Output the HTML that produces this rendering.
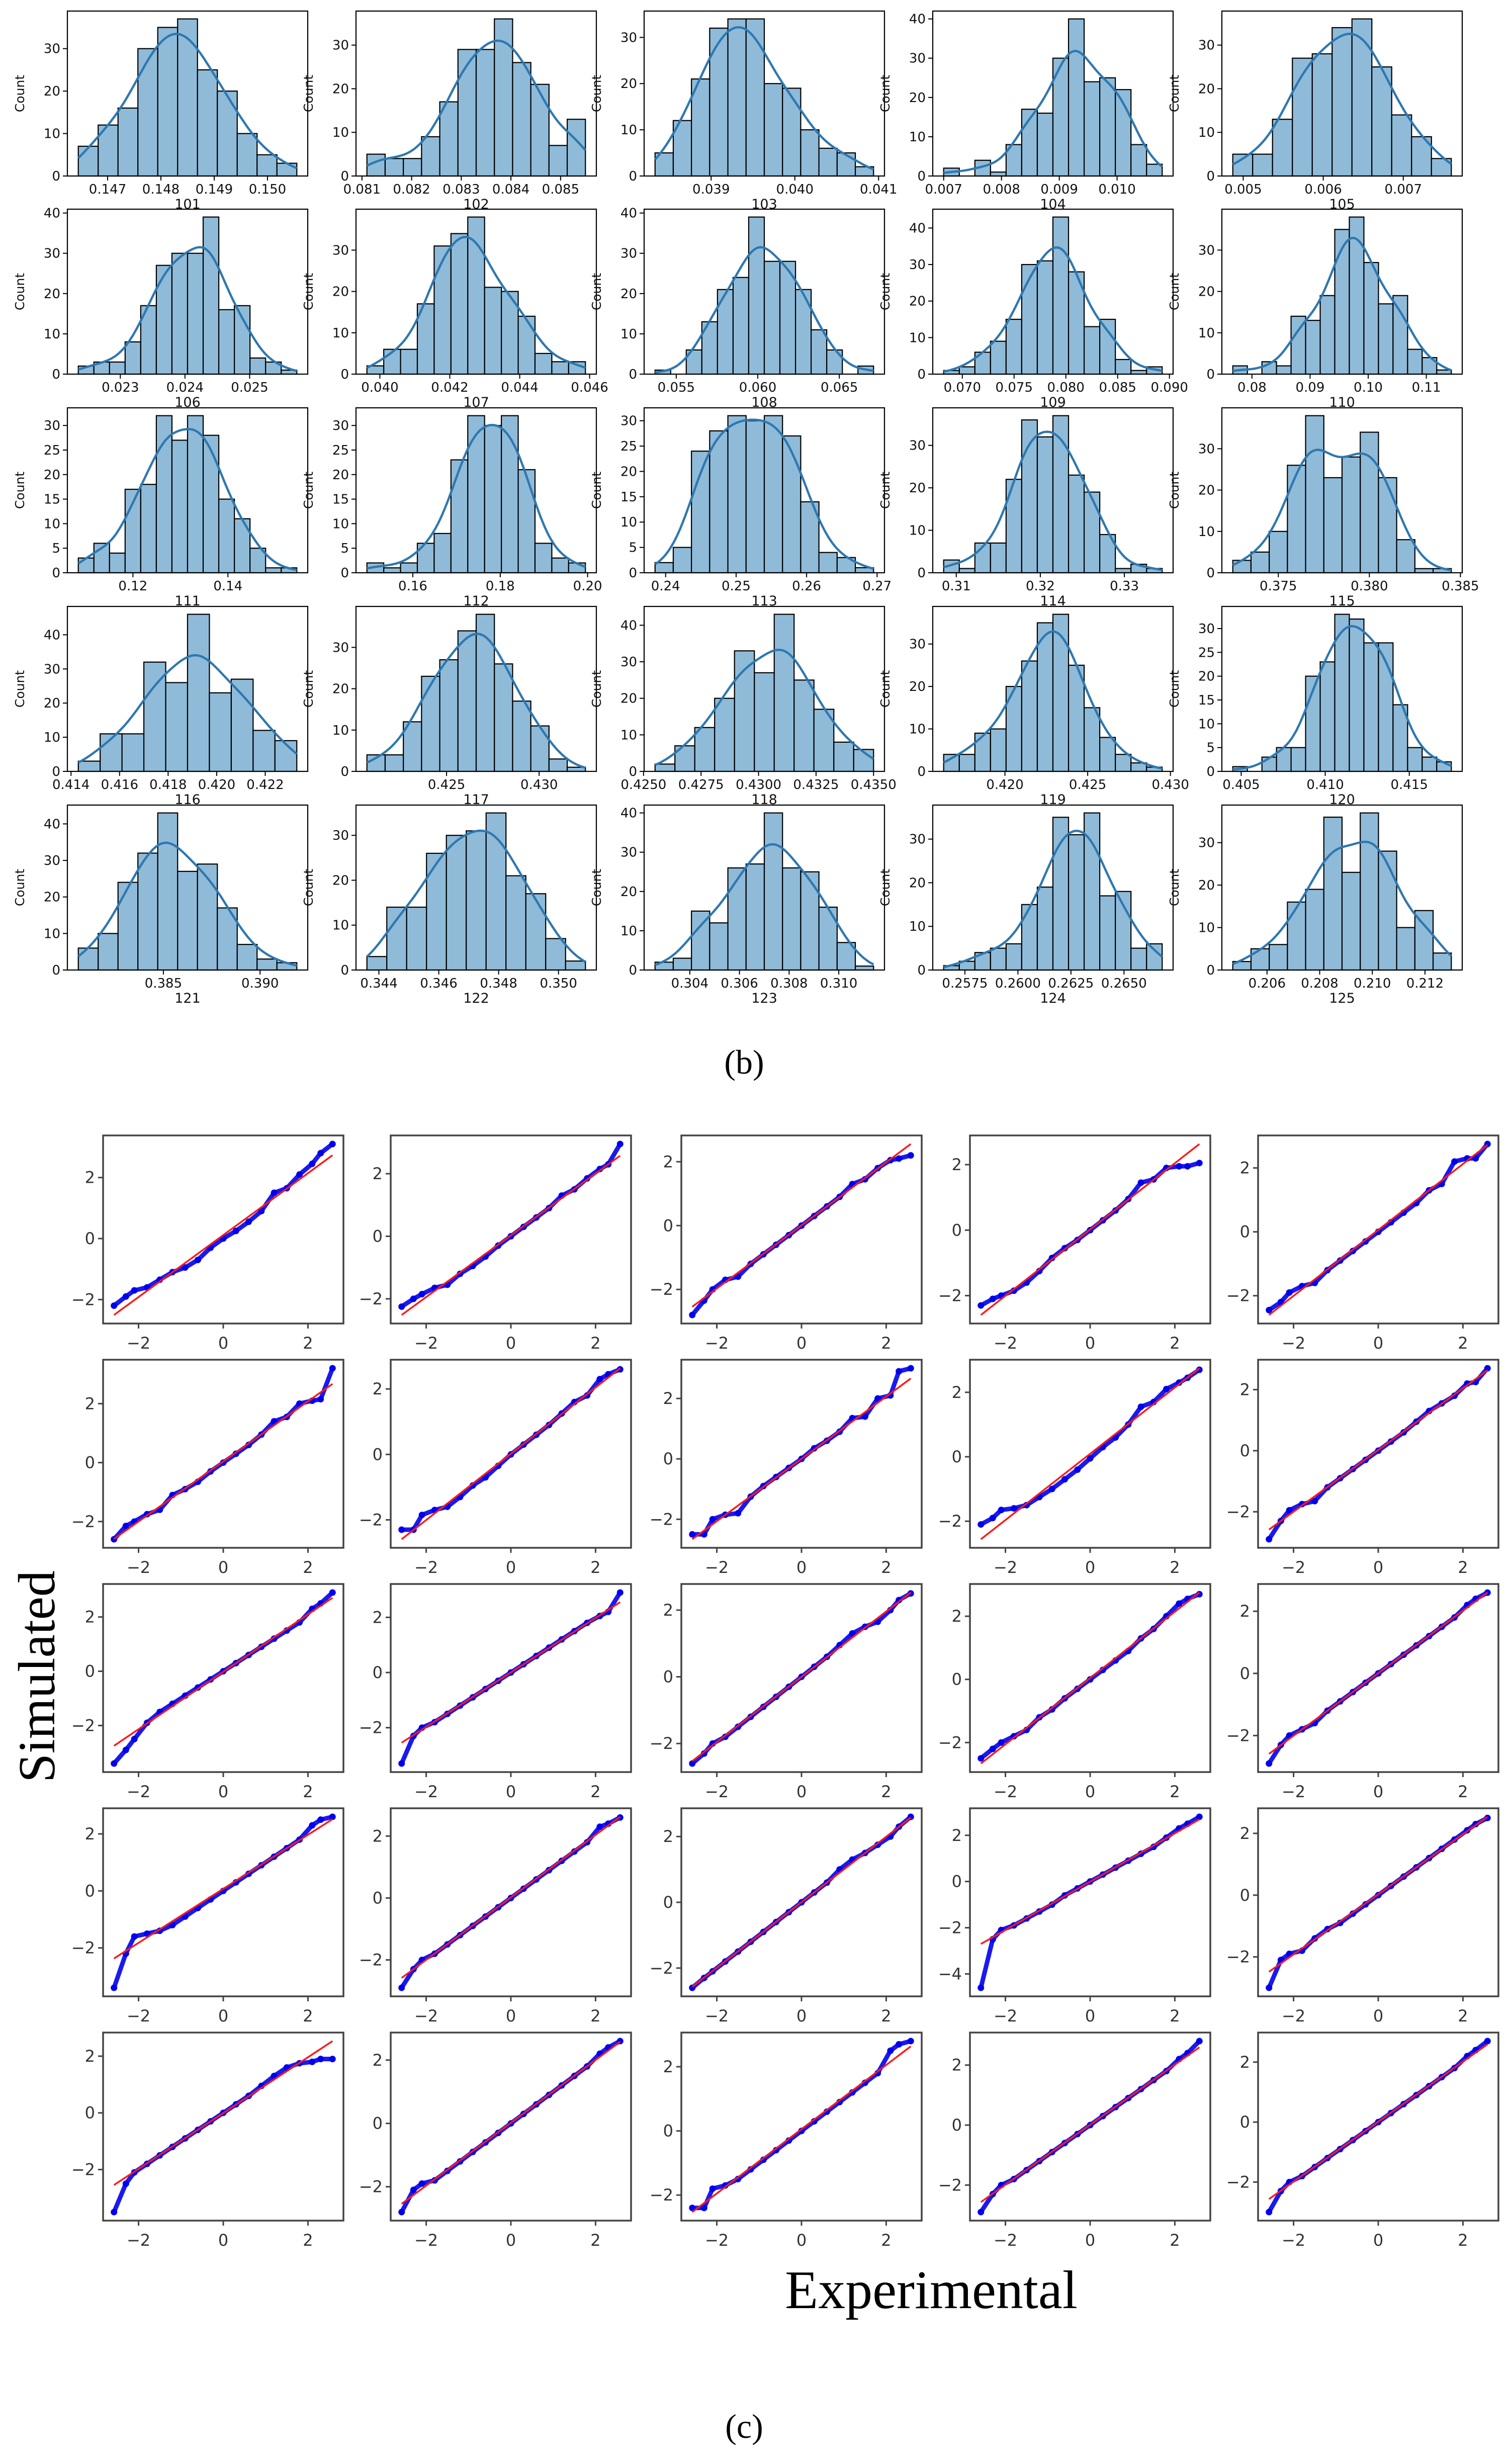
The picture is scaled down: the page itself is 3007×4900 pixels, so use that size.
<!DOCTYPE html>
<html><head><meta charset="utf-8"><style>
html,body{margin:0;padding:0;background:#fff}
svg{display:block}
text{font-family:"DejaVu Sans","Liberation Sans",sans-serif}
.serif{font-family:"Liberation Serif","Times New Roman",serif}
</style></head><body>
<svg id="fig" width="3007" height="4900" viewBox="0 0 3007 4900" xmlns="http://www.w3.org/2000/svg">
<rect width="3007" height="4900" fill="#fff"/>
<g id="hist"></g>
<text class="serif" x="1480" y="2135" font-size="68" text-anchor="middle">(b)</text>
<g id="qq"></g>
<text class="serif" transform="translate(108,3334) rotate(-90)" font-size="104" text-anchor="middle">Simulated</text>
<text class="serif" x="1852" y="4590" font-size="108" text-anchor="middle">Experimental</text>
<text class="serif" x="1480" y="4848" font-size="68" text-anchor="middle">(c)</text>
</svg>
<script>
// ---------- Histogram data ----------
const histNames = ['101','102','103','104','105','106','107','108','109','110','111','112','113','114','115','116','117','118','119','120','121','122','123','124','125'];
const histCounts = [
 [7,12,16,30,35,37,25,20,10,5,3],
 [5,4,4,9,17,29,29,36,26,21,7,13],
 [5,12,21,32,34,34,20,19,10,6,5,2],
 [2,0,4,1,8,17,16,30,40,24,25,22,8,3],
 [5,5,13,27,28,34,36,25,14,9,4],
 [2,3,3,8,17,27,30,30,39,16,17,4,3,1],
 [2,6,6,17,31,34,38,21,20,14,5,3,3],
 [1,0,6,13,21,24,39,28,28,21,11,6,0,2],
 [1,2,6,9,15,30,31,43,28,13,15,4,1,2],
 [2,0,3,2,14,13,19,35,38,27,17,19,6,4,1],
 [3,6,4,17,18,32,27,32,28,15,11,5,1,1],
 [2,1,2,6,8,23,32,30,32,21,6,3,2],
 [2,5,24,28,31,30,31,27,14,4,3,1],
 [3,1,7,7,22,36,32,37,23,19,9,1,2,1],
 [3,5,10,26,38,23,28,34,23,8,1,1],
 [3,11,11,32,26,46,23,27,12,9],
 [4,4,12,23,27,34,38,26,17,11,3,1],
 [2,7,12,20,33,27,43,25,17,8,6],
 [4,4,9,10,20,26,35,37,25,15,8,4,2,1],
 [1,0,3,5,5,20,23,33,32,27,27,14,5,3,2],
 [6,10,24,32,43,27,29,17,7,3,2],
 [3,14,14,26,30,31,35,21,17,7,2],
 [2,3,15,12,26,27,40,26,25,16,7,1],
 [1,2,4,5,6,15,19,35,31,36,17,18,5,6],
 [2,5,6,16,19,36,23,37,28,10,14,4]
];
const histRange = [
 [0.14645,0.15055],[0.0811,0.0855],[0.03833,0.04094],[0.00700,0.01078],[0.00487,0.00760],
 [0.02235,0.02573],[0.03963,0.04588],[0.0537,0.0671],[0.0682,0.0893],[0.0767,0.1143],
 [0.1085,0.1545],[0.1495,0.1995],[0.2385,0.2695],[0.3085,0.3345],[0.3725,0.3845],
 [0.4143,0.4233],[0.4207,0.4325],[0.4255,0.4350],[0.4163,0.4295],[0.4045,0.4175],
 [0.3806,0.3919],[0.3436,0.3509],[0.3026,0.3114],[0.2565,0.2668],[0.2047,0.2130]
];
const histXTicks = [
 ['0.147','0.148','0.149','0.150'],['0.081','0.082','0.083','0.084','0.085'],['0.039','0.040','0.041'],['0.007','0.008','0.009','0.010'],['0.005','0.006','0.007'],
 ['0.023','0.024','0.025'],['0.040','0.042','0.044','0.046'],['0.055','0.060','0.065'],['0.070','0.075','0.080','0.085','0.090'],['0.08','0.09','0.10','0.11'],
 ['0.12','0.14'],['0.16','0.18','0.20'],['0.24','0.25','0.26','0.27'],['0.31','0.32','0.33'],['0.375','0.380','0.385'],
 ['0.414','0.416','0.418','0.420','0.422'],['0.425','0.430'],['0.4250','0.4275','0.4300','0.4325','0.4350'],['0.420','0.425','0.430'],['0.405','0.410','0.415'],
 ['0.385','0.390'],['0.344','0.346','0.348','0.350'],['0.304','0.306','0.308','0.310'],['0.2575','0.2600','0.2625','0.2650'],['0.206','0.208','0.210','0.212']
];
const histYStep = [10,10,10,10,10, 10,10,10,10,10, 5,5,5,10,10, 10,10,10,10,5, 10,10,10,10,10];

// ---------- QQ data ----------
const qqX = [-2.58,-2.3,-2.1,-1.8,-1.5,-1.2,-0.9,-0.6,-0.3,0,0.3,0.6,0.9,1.2,1.5,1.8,2.1,2.3,2.58];
const qqY = [
 [-2.2,-1.9,-1.7,-1.6,-1.35,-1.1,-0.95,-0.7,-0.3,0,0.25,0.55,0.9,1.5,1.65,2.1,2.45,2.8,3.1],
 [-2.25,-2.0,-1.85,-1.65,-1.55,-1.2,-0.95,-0.65,-0.3,0,0.3,0.6,0.9,1.3,1.5,1.85,2.15,2.3,2.95],
 [-2.8,-2.35,-2.0,-1.7,-1.6,-1.2,-0.9,-0.6,-0.3,0,0.3,0.6,0.9,1.3,1.45,1.8,2.05,2.1,2.2],
 [-2.3,-2.1,-2.0,-1.85,-1.6,-1.25,-0.85,-0.55,-0.3,0,0.3,0.6,0.95,1.45,1.55,1.9,1.95,1.95,2.05],
 [-2.45,-2.2,-1.9,-1.7,-1.6,-1.2,-0.9,-0.6,-0.3,0,0.3,0.6,0.9,1.3,1.5,2.2,2.3,2.3,2.75],
 [-2.6,-2.15,-2.0,-1.75,-1.6,-1.1,-0.9,-0.65,-0.3,0,0.3,0.6,0.95,1.4,1.55,2.0,2.1,2.15,3.2],
 [-2.3,-2.3,-1.85,-1.7,-1.6,-1.3,-0.95,-0.7,-0.35,0,0.3,0.6,0.9,1.25,1.6,1.8,2.3,2.45,2.6],
 [-2.5,-2.5,-2.0,-1.85,-1.8,-1.25,-0.9,-0.6,-0.3,0,0.35,0.6,0.9,1.35,1.4,2.0,2.1,2.9,3.0],
 [-2.1,-1.9,-1.65,-1.6,-1.5,-1.25,-1.0,-0.7,-0.4,-0.05,0.3,0.6,1.0,1.55,1.7,2.1,2.3,2.45,2.7],
 [-2.9,-2.3,-1.95,-1.75,-1.65,-1.2,-0.9,-0.6,-0.3,0,0.3,0.6,0.95,1.3,1.55,1.8,2.2,2.25,2.7],
 [-3.4,-2.9,-2.5,-1.9,-1.5,-1.2,-0.9,-0.6,-0.3,0,0.3,0.6,0.9,1.2,1.5,1.8,2.3,2.5,2.9],
 [-3.3,-2.3,-2.0,-1.8,-1.5,-1.2,-0.9,-0.6,-0.3,0,0.3,0.6,0.9,1.2,1.5,1.8,2.05,2.2,2.9],
 [-2.6,-2.3,-2.0,-1.8,-1.5,-1.2,-0.9,-0.6,-0.3,0,0.3,0.6,0.95,1.3,1.5,1.65,2.0,2.3,2.5],
 [-2.5,-2.2,-2.0,-1.8,-1.6,-1.2,-0.95,-0.6,-0.3,0,0.3,0.6,0.9,1.3,1.6,2.0,2.4,2.55,2.7],
 [-2.9,-2.3,-2.0,-1.8,-1.6,-1.2,-0.9,-0.6,-0.3,0,0.3,0.6,0.9,1.2,1.5,1.8,2.2,2.4,2.6],
 [-3.4,-2.2,-1.6,-1.5,-1.4,-1.2,-0.9,-0.6,-0.3,0,0.3,0.6,0.9,1.2,1.5,1.8,2.3,2.5,2.6],
 [-2.9,-2.3,-2.0,-1.8,-1.5,-1.2,-0.9,-0.6,-0.3,0,0.3,0.6,0.9,1.2,1.5,1.8,2.3,2.4,2.6],
 [-2.6,-2.3,-2.1,-1.8,-1.5,-1.2,-0.9,-0.6,-0.3,0,0.3,0.6,1.0,1.3,1.5,1.75,2.0,2.3,2.6],
 [-4.6,-2.5,-2.1,-1.9,-1.6,-1.3,-1.0,-0.6,-0.3,0,0.3,0.6,0.9,1.2,1.5,1.9,2.3,2.5,2.8],
 [-3.0,-2.1,-1.9,-1.8,-1.4,-1.1,-0.9,-0.6,-0.3,0,0.3,0.6,0.9,1.2,1.5,1.8,2.1,2.3,2.5],
 [-3.5,-2.5,-2.1,-1.8,-1.5,-1.2,-0.9,-0.6,-0.3,0,0.3,0.6,0.95,1.3,1.6,1.75,1.8,1.9,1.9],
 [-2.8,-2.1,-1.9,-1.8,-1.5,-1.2,-0.9,-0.6,-0.3,0,0.3,0.6,0.9,1.2,1.5,1.8,2.2,2.4,2.6],
 [-2.4,-2.4,-1.8,-1.7,-1.5,-1.2,-0.9,-0.6,-0.3,0,0.3,0.6,0.9,1.2,1.5,1.8,2.5,2.7,2.8],
 [-2.9,-2.3,-2.0,-1.8,-1.5,-1.2,-0.9,-0.6,-0.3,0,0.3,0.6,0.9,1.2,1.5,1.8,2.2,2.4,2.8],
 [-3.0,-2.3,-2.0,-1.8,-1.5,-1.2,-0.9,-0.6,-0.3,0,0.3,0.6,0.9,1.2,1.5,1.8,2.2,2.4,2.7]
];
const qqXTicks = ['\u22122','0','2'];

const NS='http://www.w3.org/2000/svg';
function mk(tag, attrs, parent){const e=document.createElementNS(NS,tag);for(const k in attrs)e.setAttribute(k,attrs[k]);parent.appendChild(e);return e;}

// ---------- Histograms ----------
const H_COL=[134,708,1281,1855,2430], H_ROW=[22,416,811,1206,1601], HW=478, HH=328;
const hg=document.getElementById('hist');
histCounts.forEach((counts,i)=>{
  const ox=H_COL[i%5], oy=H_ROW[Math.floor(i/5)];
  const g=mk('g',{},hg);
  
  
  const [lo,hi]=histRange[i]; const pad=(hi-lo)*0.05;
  const xmin=lo-pad, xmax=hi+pad;
  const cmax=Math.max(...counts); const ymax=cmax*1.05;
  const sx=v=>ox+(v-xmin)/(xmax-xmin)*HW;
  const sy=v=>oy+HH-v/ymax*HH;
  const bw=(hi-lo)/counts.length;
  counts.forEach((c,j)=>{
    if(c<=0)return;
    const r=mk('rect',{x:sx(lo+j*bw),y:sy(c),width:sx(lo+(j+1)*bw)-sx(lo+j*bw),height:sy(0)-sy(c),fill:'#8fbbd9',stroke:'#000','stroke-width':2.2},g);
    
    
  });
  const kb=bw*0.95; let d='';
  for(let k=0;k<=120;k++){
    const x=lo+(hi-lo)*k/120; let s=0;
    counts.forEach((c,j)=>{const cx=lo+(j+0.5)*bw;s+=c*bw/(kb*Math.sqrt(2*Math.PI))*Math.exp(-((x-cx)**2)/(2*kb*kb));});
    d+=(k?'L':'M')+sx(x).toFixed(1)+','+sy(s).toFixed(1);
  }
  const kde=mk('path',{d:d,fill:'none',stroke:'#2e78b0','stroke-width':4.5},g);
  
  
  const fr=mk('rect',{x:ox,y:oy,width:HW,height:HH,fill:'none',stroke:'#000','stroke-width':2.2},g);
  
  
  histXTicks[i].forEach(t=>{
    const x=sx(parseFloat(t));
    mk('line',{x1:x,x2:x,y1:oy+HH,y2:oy+HH+9,stroke:'#000','stroke-width':2},g);
    const tx=mk('text',{x:x,y:oy+HH+35,'font-size':26,'text-anchor':'middle',fill:'#111'},g);
    tx.textContent=t;
    
    
  });
  for(let v=0;v<=ymax;v+=histYStep[i]){
    const y=sy(v);
    mk('line',{x1:ox-9,x2:ox,y1:y,y2:y,stroke:'#000','stroke-width':2},g);
    const ty=mk('text',{x:ox-14,y:y+9,'font-size':26,'text-anchor':'end',fill:'#111'},g);
    ty.textContent=String(v);
    
    
  }
  const yl=mk('text',{transform:`translate(${ox-86},${oy+HH/2}) rotate(-90)`,'font-size':25,'text-anchor':'middle',fill:'#111'},g);
  yl.textContent='Count';
  
  
  const xl=mk('text',{x:ox+HW/2,y:oy+HH+65,'font-size':27,'text-anchor':'middle',fill:'#111'},g);
  xl.textContent=histNames[i];
  
  
});

// ---------- QQ plots ----------
const Q_COL=[205,777,1355,1929,2502], Q_ROW=[2258,2704,3150,3596,4042], QW=478, QH=374;
const qg=document.getElementById('qq');
qqY.forEach((ys,i)=>{
  const ox=Q_COL[i%5], oy=Q_ROW[Math.floor(i/5)];
  const g=mk('g',{},qg);
  
  
  const n=qqX.length;
  // fit on central quantiles (robust to tail outliers)
  const a=2, b=n-3; let m=0, sxs=0, sys=0;
  for(let k=a;k<=b;k++){sxs+=qqX[k];sys+=ys[k];m++;}
  const mx=sxs/m, my=sys/m;
  let sxy=0,sxx=0; for(let k=a;k<=b;k++){sxy+=(qqX[k]-mx)*(ys[k]-my);sxx+=(qqX[k]-mx)**2;}
  const slope=sxy/sxx, icpt=my-slope*mx;
  const x0=qqX[0], x1=qqX[n-1];
  const l0=slope*x0+icpt, l1=slope*x1+icpt;
  const dlo=Math.min(...ys,l0), dhi=Math.max(...ys,l1);
  const ypad=(dhi-dlo)*0.05, xpad=(x1-x0)*0.05;
  const xmin=x0-xpad, xmax=x1+xpad, ymin=dlo-ypad, ymax=dhi+ypad;
  const sx=v=>ox+(v-xmin)/(xmax-xmin)*QW;
  const sy=v=>oy+QH-(v-ymin)/(ymax-ymin)*QH;
  let d=''; for(let k=0;k<n;k++) d+=(k?'L':'M')+sx(qqX[k]).toFixed(1)+','+sy(ys[k]).toFixed(1);
  const pl=mk('path',{d:d,fill:'none',stroke:'#1a1aee','stroke-width':9,'stroke-linejoin':'round','stroke-linecap':'round'},g);
  
  
  for(let k=0;k<n;k++){
    const c=mk('circle',{cx:sx(qqX[k]),cy:sy(ys[k]),r:6.5,fill:'#0000ee'},g);
    
    
  }
  const rl=mk('line',{x1:sx(x0),y1:sy(l0),x2:sx(x1),y2:sy(l1),stroke:'#ff1a1a','stroke-width':3.5},g);
  
  
  const fr=mk('rect',{x:ox,y:oy,width:QW,height:QH,fill:'none',stroke:'#444','stroke-width':3.5},g);
  
  
  qqXTicks.forEach(t=>{
    const x=sx(parseFloat(t.replace('\u2212','-')));
    mk('line',{x1:x,x2:x,y1:oy+QH,y2:oy+QH+10,stroke:'#444','stroke-width':3},g);
    const tx=mk('text',{x:x,y:oy+QH+50,'font-size':32,'text-anchor':'middle',fill:'#333'},g);
    tx.textContent=t;
    
    
  });
  for(let v=Math.ceil(ymin/2)*2; v<=ymax; v+=2){
    const y=sy(v);
    mk('line',{x1:ox-10,x2:ox,y1:y,y2:y,stroke:'#444','stroke-width':3},g);
    const ty=mk('text',{x:ox-16,y:y+11,'font-size':32,'text-anchor':'end',fill:'#333'},g);
    ty.textContent=v<0?'\u2212'+Math.abs(v):String(v);
    
    
  }
});
</script>
</body></html>
